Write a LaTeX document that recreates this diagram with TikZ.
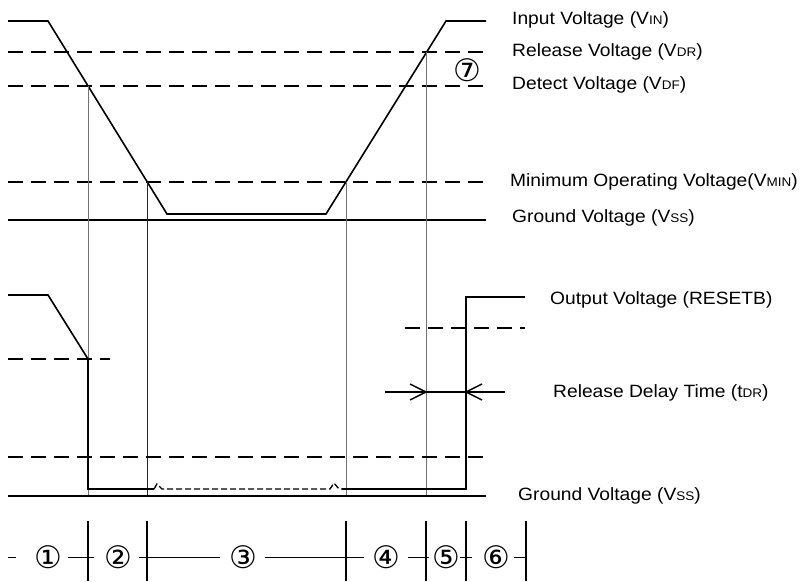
\documentclass[tikz,border=0pt]{standalone}
\usepackage{fontspec}
\setmainfont{Liberation Sans}
\newfontfamily\circfont{DejaVu Sans}
\usetikzlibrary{arrows.meta}
\newcommand{\sbs}[1]{{\fontsize{12.5}{12.5}\selectfont #1}}
\newcommand{\lab}[1]{\scalebox{1.08}[1]{#1}}
\begin{document}
\begin{tikzpicture}[x=1pt,y=-1pt,
  wave/.style={line width=1.6pt, line join=miter},
  lvl/.style={line width=1.6pt, dash pattern=on 15pt off 8pt},
  gnd/.style={line width=1.6pt},
  markline/.style={line width=0.9pt, black!55},
  lbl/.style={anchor=west, inner sep=0pt, font=\fontsize{17.8}{20}\selectfont},
  num/.style={inner sep=0pt, font=\circfont\fontsize{31}{31}\selectfont},
  seg/.style={line width=1pt},
  tick/.style={line width=1.2pt}]
\useasboundingbox (0,0) rectangle (803,581);

% input waveform
\coordinate (in0) at (8,21);
\coordinate (in1) at (48,21);
\coordinate (in2) at (167,214);
\coordinate (in3) at (326,214);
\coordinate (in4) at (446,21);
\coordinate (in5) at (486,21);
\draw[wave] (in0) -- (in1) -- (in2) -- (in3) -- (in4) -- (in5);

% levels
\coordinate (dr0) at (8,52);  \coordinate (dr1) at (486,52);
\coordinate (df0) at (8,86);  \coordinate (df1) at (486,86);
\coordinate (mn0) at (8,182); \coordinate (mn1) at (486,182);
\coordinate (g0) at (8,220);  \coordinate (g1) at (486,220);
\draw[lvl] (dr0) -- (dr1);
\draw[lvl] (df0) -- (df1);
\draw[lvl] (mn0) -- (mn1);
\draw[gnd] (g0) -- (g1);

% vertical marker lines
\coordinate (v1t) at (88,86);   \coordinate (v1b) at (88,496);
\coordinate (v2t) at (147,182); \coordinate (v2b) at (147,496);
\coordinate (v3t) at (346,182); \coordinate (v3b) at (346,496);
\coordinate (v4t) at (426,52);  \coordinate (v4b) at (426,496);
\draw[markline] (v1t) -- (v1b);
\draw[markline, black!85] (v2t) -- (v2b);
\draw[markline] (v3t) -- (v3b);
\draw[markline] (v4t) -- (v4b);

% output waveform
\coordinate (o0) at (8,295);
\coordinate (o1) at (48,295);
\coordinate (o2) at (88,359);
\coordinate (o3) at (88,489);
\coordinate (o4) at (154,489);
\coordinate (o5) at (342,489);
\coordinate (o6) at (466,489);
\coordinate (o7) at (466,297);
\coordinate (o8) at (525,297);
\draw[wave] (o0) -- (o1) -- (o2) -- (o3) -- (o4);
\draw[line width=1.3pt, dash pattern=on 6pt off 3pt] (o4) -- (157,484) -- (162,489) -- (330,489) -- (334,483) -- (339,489) -- (o5);
\draw[wave] (o5) -- (o6) -- (o7) -- (o8);

% output levels
\coordinate (ol0) at (8,359);   \coordinate (ol1) at (110,359);
\coordinate (oh0) at (405,328); \coordinate (oh1) at (525,328);
\coordinate (ot0) at (8,457);   \coordinate (ot1) at (486,457);
\coordinate (og0) at (8,496);   \coordinate (og1) at (486,496);
\draw[lvl] (ol0) -- (ol1);
\draw[lvl] (oh0) -- (oh1);
\draw[lvl] (ot0) -- (ot1);
\draw[gnd] (og0) -- (og1);

% release delay arrows
\coordinate (a0) at (385,392);
\coordinate (at1) at (426,392);
\coordinate (at2) at (466,392);
\coordinate (a1) at (505,392);
\draw[gnd] (a0) -- (a1);
\draw[line width=1.4pt] (410,384) -- (at1) -- (410,400);
\draw[line width=1.4pt] (482,384) -- (at2) -- (482,400);

% labels
\node[lbl] (lin) at (512,20) {\lab{Input Voltage (V\sbs{IN})}};
\node[lbl] (ldr) at (512,52) {\lab{Release Voltage (V\sbs{DR})}};
\node[lbl] (ldf) at (512,85) {\lab{Detect Voltage (V\sbs{DF})}};
\node[lbl] (lmn) at (510,182) {\lab{Minimum Operating Voltage(V\sbs{MIN})}};
\node[lbl] (lg) at (512,218) {\lab{Ground Voltage (V\sbs{SS})}};
\node[lbl] (lout) at (550,300) {\lab{Output Voltage (RESETB)}};
\node[lbl] (ltdr) at (553,393) {\lab{Release Delay Time (t\sbs{DR})}};
\node[lbl] (log) at (518,496) {\lab{Ground Voltage (V\sbs{SS})}};
\node[num] (n7) at (467,70) {⑦};

% bottom period row
\foreach \x/\n in {88/b1,147/b2,346/b3,426/b4,466/b5,526/b6}{
  \coordinate (\n t) at (\x,521);
  \coordinate (\n b) at (\x,581);
  \draw[tick] (\n t) -- (\n b);
}
\foreach \a/\b in {8/15.5,68/94,139/220,265/364,408/429,460/472,514/526}{
  \draw[seg] (\a,557) -- (\b,557);
}
\node[num] (p1) at (48,557) {①};
\node[num] (p2) at (118.5,557) {②};
\node[num] (p3) at (243,557) {③};
\node[num] (p4) at (386,557) {④};
\node[num] (p5) at (446,557) {⑤};
\node[num] (p6) at (496.5,557) {⑥};
\end{tikzpicture}
\end{document}
